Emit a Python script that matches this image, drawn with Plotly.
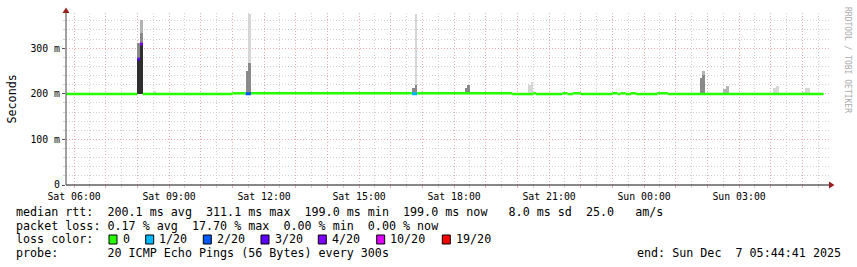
import plotly.graph_objects as go
from datetime import datetime, timedelta

# ---------------- data ----------------
# median RTT segments (ms), with lost pings out of 20
MEDIAN_START = ["2025-12-06 05:45", "2025-12-06 08:00", "2025-12-06 08:05", "2025-12-06 08:10",
                "2025-12-06 11:00", "2025-12-06 11:25", "2025-12-06 11:35", "2025-12-06 16:40",
                "2025-12-06 16:50", "2025-12-06 19:50", "2025-12-06 20:30", "2025-12-06 20:35",
                "2025-12-06 21:25", "2025-12-06 21:35", "2025-12-06 21:45", "2025-12-06 22:00",
                "2025-12-06 23:00", "2025-12-06 23:10", "2025-12-06 23:15", "2025-12-06 23:25",
                "2025-12-06 23:35", "2025-12-06 23:45", "2025-12-07 00:25", "2025-12-07 00:45"]
MEDIAN_END = MEDIAN_START[1:] + ["2025-12-07 05:40"]
MEDIAN_MS = [199.3, 276, 309, 199.3,
             201, 200, 201, 200,
             201, 199.3, 201, 199.3,
             201, 199.3, 201, 199.3,
             201, 199.3, 201, 199.3,
             201, 199.3, 201, 199.3]
MEDIAN_LOST = [0, 3, 4, 0,
               0, 2, 0, 1,
               0, 0, 0, 0,
               0, 0, 0, 0,
               0, 0, 0, 0,
               0, 0, 0, 0]

# smoke (ping spread) per 5-minute step, ms
SMOKE_STEP = ["2025-12-06 08:00", "2025-12-06 08:05", "2025-12-06 08:30",
              "2025-12-06 11:25", "2025-12-06 11:30",
              "2025-12-06 16:40", "2025-12-06 16:45",
              "2025-12-06 18:20", "2025-12-06 18:25",
              "2025-12-06 20:20", "2025-12-06 20:25",
              "2025-12-07 01:45", "2025-12-07 01:50",
              "2025-12-07 02:30", "2025-12-07 02:35",
              "2025-12-07 04:05", "2025-12-07 04:10",
              "2025-12-07 05:00", "2025-12-07 05:05", "2025-12-07 05:10"]
SMOKE_MIN =      [199, 199, 199, 199, 199, 199, 199, 199, 199, 199, 199, 199, 199, 199, 199, 199, 199, 199, 199, 199]
SMOKE_DARK_TOP = [277, 312, 199, 199, 199, 199, 199, 199, 199, 199, 199, 199, 199, 199, 199, 199, 199, 199, 199, 199]
SMOKE_MID_TOP =  [312, 333, 199, 249, 268, 213, 220, 213, 220, 199, 199, 234, 242, 199, 199, 199, 199, 199, 199, 199]
SMOKE_LIGHT_TOP = [312, 362, 199, 249, 268, 213, 220, 213, 220, 199, 199, 234, 250, 211, 217, 199, 199, 199, 199, 199]
SMOKE_MAX =      [312, 362, 205, 249, 374, 213, 374, 213, 220, 220, 225, 234, 250, 211, 217, 213, 217, 203, 213, 213]

LOSS_LEVELS = [0, 1, 2, 3, 4, 10, 19]
LOSS_LABELS = ["0", "1/20", "2/20", "3/20", "4/20", "10/20", "19/20"]

Y_TICK_VALS = [0, 100, 200, 300]
Y_TICK_TEXT = ["0", "100 m", "200 m", "300 m"]
X_LABELS = {"2025-12-06 06:00": "Sat 06:00", "2025-12-06 09:00": "Sat 09:00",
            "2025-12-06 12:00": "Sat 12:00", "2025-12-06 15:00": "Sat 15:00",
            "2025-12-06 18:00": "Sat 18:00", "2025-12-06 21:00": "Sat 21:00",
            "2025-12-07 00:00": "Sun 00:00", "2025-12-07 03:00": "Sun 03:00"}

STATS_LINE1 = "median rtt:  200.1 ms avg  311.1 ms max  199.0 ms min  199.0 ms now   8.0 ms sd  25.0   am/s"
STATS_LINE2 = "packet loss: 0.17 % avg  17.70 % max  0.00 % min  0.00 % now"
PROBE_LINE = "probe:       20 ICMP Echo Pings (56 Bytes) every 300s"
END_LINE = "end: Sun Dec  7 05:44:41 2025"

# ---------------- style / layout ----------------
W, H = 857, 267
L, T, R, B = 66, 13, 829, 185
START = datetime(2025, 12, 6, 5, 44, 41)
PX_PER_H = 760 / 24
X_END = START + timedelta(hours=(R - L) / PX_PER_H)
Y_TOP = 377

LOSS_COLORS = ["#26ff00", "#00b8ff", "#0059ff", "#5e00ff", "#7e00ff", "#dd00ff", "#ff0000"]
SHADES = {"dark": "#2e2e2e", "mid": "#8a8a8a", "light": "#b4b4b4", "pale": "#d6d6d6"}
MONO = "DejaVu Sans Mono"
MGRID = "#e8abab"
GRID = "#d0d0d0"
ARROW = "#9a2020"
TXT = 11.7


def xp(px):
    return (px - L) / (R - L)


def yp(py):
    return (B - py) / (B - T)


def ts(s):
    return datetime.strptime(s, "%Y-%m-%d %H:%M")


fig = go.Figure()

# smoke bands
step_centers = [ts(s) + timedelta(seconds=150) for s in SMOKE_STEP]
bands = [("dark", SMOKE_MIN, SMOKE_DARK_TOP),
         ("mid", SMOKE_DARK_TOP, SMOKE_MID_TOP),
         ("light", SMOKE_MID_TOP, SMOKE_LIGHT_TOP),
         ("pale", SMOKE_LIGHT_TOP, SMOKE_MAX)]
for name, lo, hi in bands:
    fig.add_trace(go.Bar(
        x=step_centers, base=lo, y=[h - l for l, h in zip(lo, hi)],
        width=300000, marker=dict(color=SHADES[name], line=dict(width=0)),
        hoverinfo="skip", showlegend=False))

# median line coloured by loss
for lvl, col in zip(LOSS_LEVELS, LOSS_COLORS):
    xs, ys = [], []
    for s, e, v, lost in zip(MEDIAN_START, MEDIAN_END, MEDIAN_MS, MEDIAN_LOST):
        if lost == lvl:
            xs += [ts(s), ts(e), None]
            ys += [v, v, None]
    if xs:
        fig.add_trace(go.Scatter(x=xs, y=ys, mode="lines",
                                 line=dict(color=col, width=2.5 if lvl == 0 else 3),
                                 hoverinfo="skip", showlegend=False))

hour_ticks = [datetime(2025, 12, 6, 6) + timedelta(hours=i) for i in range(24)]
hour_text = [X_LABELS.get(t.strftime("%Y-%m-%d %H:%M"), "") for t in hour_ticks]

fig.update_layout(
    width=W, height=H, autosize=False,
    margin=dict(l=L, r=W - R, t=T, b=H - B, pad=0),
    paper_bgcolor="white", plot_bgcolor="white",
    barmode="overlay", bargap=0,
    font=dict(family=MONO, size=9.85, color="#000"),
    xaxis=dict(type="date", range=[START, X_END], tickmode="array",
               tickvals=hour_ticks, ticktext=hour_text,
               showgrid=True, gridcolor=MGRID, griddash="1px,2px", gridwidth=1,
               ticks="outside", ticklen=2, tickcolor=MGRID, tickwidth=1,
               showline=False, zeroline=False,
               tickfont=dict(family=MONO, size=9.85, color="#000"),
               minor=dict(dtick=1800000, tick0="2025-12-06 05:30", showgrid=True,
                          gridcolor=GRID, griddash="1px,2px", gridwidth=1,
                          ticks="outside", ticklen=2, tickcolor=GRID)),
    yaxis=dict(range=[0, Y_TOP], tickmode="array", tickvals=Y_TICK_VALS, ticktext=Y_TICK_TEXT,
               showgrid=True, gridcolor=MGRID, griddash="1px,2px", gridwidth=1,
               ticks="outside", ticklen=3, tickcolor="#555", tickwidth=1,
               showline=False, zeroline=False,
               tickfont=dict(family=MONO, size=9.85, color="#000"),
               minor=dict(dtick=20, tick0=0, showgrid=True, gridcolor=GRID,
                          griddash="1px,2px", gridwidth=1,
                          ticks="outside", ticklen=2, tickcolor=GRID)),
)

shapes = []
# axis lines
shapes.append(dict(type="line", xref="paper", yref="paper", x0=xp(L), x1=xp(R + 1),
                   y0=0, y1=0, line=dict(color="#111", width=1)))
shapes.append(dict(type="line", xref="paper", yref="paper", x0=xp(L), x1=xp(L),
                   y0=0, y1=yp(12), line=dict(color="#444", width=1)))
# arrows
shapes.append(dict(type="path", xref="paper", yref="paper",
                   path=f"M {xp(L - 3.5)},{yp(13)} L {xp(L + 3.5)},{yp(13)} L {xp(L)},{yp(7.5)} Z",
                   fillcolor=ARROW, line=dict(width=0)))
shapes.append(dict(type="path", xref="paper", yref="paper",
                   path=f"M {xp(R)},{yp(181.5)} L {xp(R)},{yp(188.5)} L {xp(R + 5.5)},{yp(185)} Z",
                   fillcolor=ARROW, line=dict(width=0)))

annotations = []


def text_at(px, py, s, size=TXT, anchor="left", color="#000", angle=0):
    annotations.append(dict(xref="paper", yref="paper", x=xp(px), y=yp(py), text=s,
                            showarrow=False, xanchor=anchor, yanchor="middle",
                            textangle=angle, borderpad=0, borderwidth=0,
                            font=dict(family=MONO, size=size, color=color)))


text_at(11, 99.5, "Seconds", anchor="center", angle=-90)
text_at(848, 60, "RRDTOOL / TOBI OETIKER", size=8, anchor="center", color="#ababab", angle=90)

text_at(15.5, 211.5, STATS_LINE1.replace(" ", "&nbsp;"))
text_at(15.5, 225.5, STATS_LINE2.replace(" ", "&nbsp;"))
text_at(15.5, 239.5, "loss&nbsp;color:")
text_at(15.5, 253, PROBE_LINE.replace(" ", "&nbsp;"))
text_at(840.5, 253, END_LINE.replace(" ", "&nbsp;"), anchor="right")

box_left = [109, 145.7, 203.3, 261, 318.3, 376.7, 442.3]
for bx, lab, col in zip(box_left, LOSS_LABELS, LOSS_COLORS):
    shapes.append(dict(type="rect", xref="paper", yref="paper",
                       x0=xp(bx), x1=xp(bx + 8), y0=yp(244), y1=yp(235),
                       fillcolor=col, line=dict(color="#000", width=1)))
    text_at(bx + 13.5, 239.5, lab)

fig.update_layout(shapes=shapes, annotations=annotations)
fig.write_html("out.html")
